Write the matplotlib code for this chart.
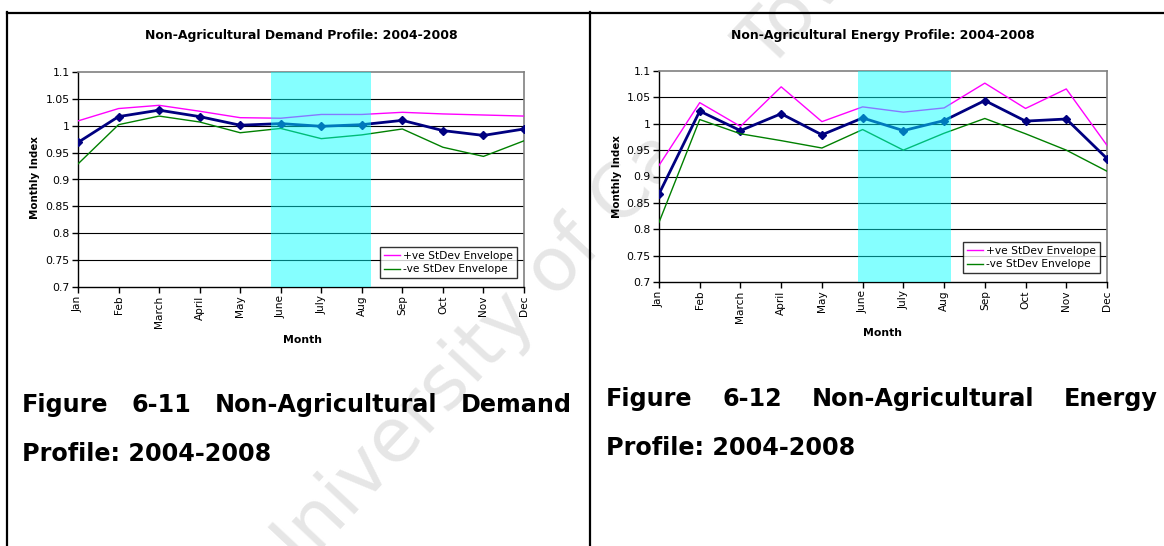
import matplotlib
matplotlib.use("Agg")
import matplotlib.pyplot as plt
from matplotlib.lines import Line2D
import numpy as np

# data
months = ["Jan", "Feb", "March", "April", "May", "June",
          "July", "Aug", "Sep", "Oct", "Nov", "Dec"]

demand_index = [0.969, 1.017, 1.029, 1.017, 1.001, 1.004, 0.999, 1.002, 1.010, 0.991, 0.982, 0.994]
demand_upper = [1.009, 1.032, 1.038, 1.027, 1.015, 1.014, 1.021, 1.021, 1.025, 1.022, 1.020, 1.018]
demand_lower = [0.929, 1.002, 1.018, 1.007, 0.987, 0.995, 0.976, 0.983, 0.994, 0.960, 0.943, 0.972]

energy_index = [0.867, 1.024, 0.987, 1.019, 0.979, 1.011, 0.987, 1.006, 1.044, 1.005, 1.009, 0.934]
energy_upper = [0.921, 1.040, 0.995, 1.070, 1.004, 1.032, 1.022, 1.030, 1.077, 1.029, 1.066, 0.959]
energy_lower = [0.813, 1.008, 0.981, 0.968, 0.954, 0.989, 0.950, 0.982, 1.010, 0.981, 0.950, 0.910]

# winter months highlighted (in month-index units)
demand_shade = (4.75, 7.22)
energy_shade = (4.88, 7.18)

y_ticks = [0.7, 0.75, 0.8, 0.85, 0.9, 0.95, 1.0, 1.05, 1.1]

W, H = 1164, 546
fig = plt.figure(figsize=(W / 100, H / 100), dpi=100)
fig.patch.set_facecolor("white")


def px(x, y):
    return x / W, 1 - y / H


def panel(rect, title, main, upper, lower, shade, title_xy, ylab_xy, xlab_xy):
    l, t, r, b = rect
    ax = fig.add_axes([l / W, 1 - b / H, (r - l) / W, (b - t) / H])
    x = np.arange(len(months))
    ax.set_xlim(0, len(months) - 1)
    ax.set_ylim(0.7, 1.1)
    ax.set_yticks(y_ticks)
    ax.set_yticklabels([f"{v:g}" for v in y_ticks], fontsize=7.8)
    ax.set_xticks(x)
    ax.set_xticklabels(months, rotation=90, fontsize=7.6)
    ax.tick_params(direction="out", length=4, width=1, pad=2, color="black")
    for v in y_ticks[1:-1]:
        ax.axhline(v, color="black", lw=0.8, zorder=1)
    for s in ["top", "right"]:
        ax.spines[s].set_color("#808080")
        ax.spines[s].set_linewidth(1.2)
    for s in ["left", "bottom"]:
        ax.spines[s].set_color("black")
        ax.spines[s].set_linewidth(1.0)

    ax.plot(x, main, color="#000080", lw=2.0, marker="D", ms=4.5, zorder=3)
    ax.plot(x, upper, color="#ff00ff", lw=1.0, zorder=3, label="+ve StDev Envelope")
    ax.plot(x, lower, color="#008000", lw=1.0, zorder=3, label="-ve StDev Envelope")
    ax.axvspan(shade[0], shade[1], color="#00ffff", alpha=0.48, lw=0, zorder=4)

    leg = ax.legend(loc="lower right", bbox_to_anchor=(1 - 7 / (r - l), 9 / (b - t)),
                    borderaxespad=0, fontsize=7.7, frameon=True, fancybox=False,
                    handlelength=1.5, handletextpad=0.3, borderpad=0.35,
                    labelspacing=0.35)
    leg.get_frame().set_edgecolor("black")
    leg.get_frame().set_linewidth(1.0)
    leg.set_zorder(6)

    fig.text(*px(*title_xy), title, ha="center", va="center",
             fontsize=9, fontweight="bold")
    fig.text(*px(*ylab_xy), "Monthly Index", ha="center", va="center",
             rotation=90, fontsize=7.4, fontweight="bold")
    fig.text(*px(*xlab_xy), "Month", ha="center", va="center",
             fontsize=7.8, fontweight="bold")
    return ax


panel((78, 72, 524, 287), "Non-Agricultural Demand Profile: 2004-2008",
      demand_index, demand_upper, demand_lower, demand_shade,
      (301, 35), (35, 178), (302, 340))
panel((659, 71, 1107, 282), "Non-Agricultural Energy Profile: 2004-2008",
      energy_index, energy_upper, energy_lower, energy_shade,
      (883, 35), (617, 177), (883, 333))

# table borders
for xs, ys in [((7, W), (12.5, 12.5)), ((7, 7), (12, H)), ((589.5, 589.5), (12, H))]:
    fig.add_artist(Line2D([a / W for a in xs], [1 - b / H for b in ys],
                          color="black", lw=1.6, transform=fig.transFigure))

# captions, first line justified across the cell
cap_size = 17.2


def justified(words, x0, x1, y):
    texts = [fig.text(*px(x0, y), w, fontsize=cap_size, fontweight="bold",
                      ha="left", va="baseline") for w in words]
    fig.canvas.draw()
    r = fig.canvas.get_renderer()
    widths = [t.get_window_extent(r).width for t in texts]
    gap = (x1 - x0 - sum(widths)) / (len(words) - 1)
    pos = x0
    for t, w in zip(texts, widths):
        t.set_position(px(pos, y))
        pos += w + gap


justified(["Figure", "6-11", "Non-Agricultural", "Demand"], 22, 572, 412)
fig.text(*px(22, 461), "Profile: 2004-2008", fontsize=cap_size,
         fontweight="bold", ha="left", va="baseline")
justified(["Figure", "6-12", "Non-Agricultural", "Energy"], 606, 1158, 406)
fig.text(*px(606, 455), "Profile: 2004-2008", fontsize=cap_size,
         fontweight="bold", ha="left", va="baseline")

# faint watermark, sits behind the charts
fig.text(*px(280, 594), "University of Cape Town", fontsize=54, color="#e6e6e6",
         rotation=47, rotation_mode="anchor", ha="left",
         va="baseline", zorder=-1)

fig.savefig("out.png", dpi=100, facecolor="white")
